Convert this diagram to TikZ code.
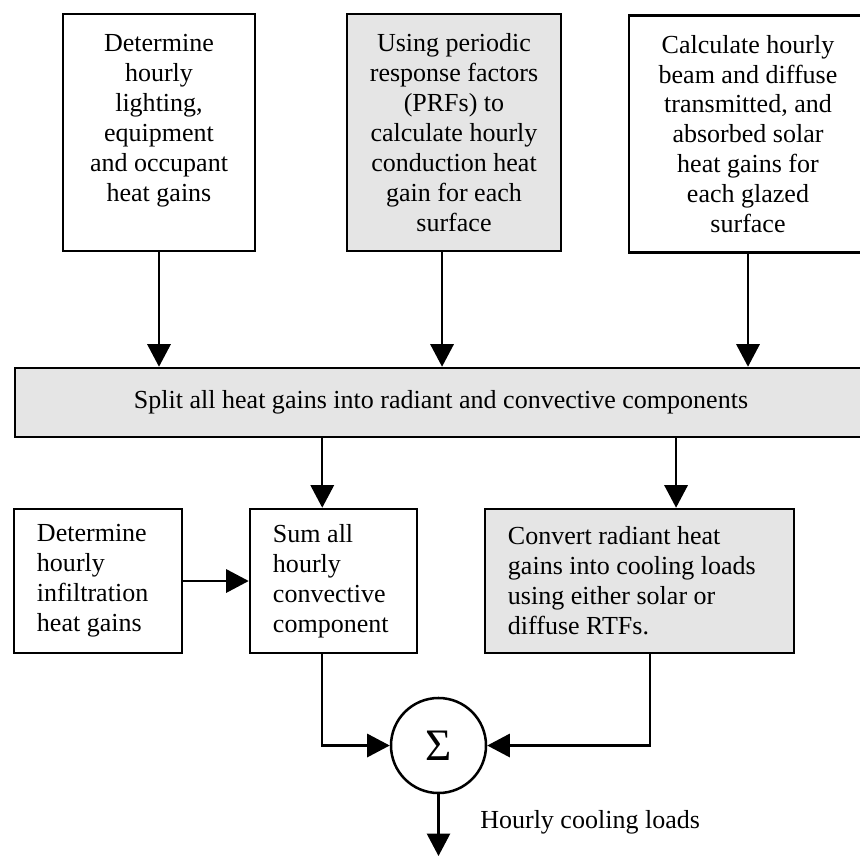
\documentclass[tikz,border=0pt]{standalone}
\usepackage{fontspec}
\setmainfont{Liberation Serif}
\usetikzlibrary{arrows.meta}
\definecolor{boxgray}{gray}{0.9}
\begin{document}
\begin{tikzpicture}[
    x=0.025cm, y=-0.025cm,
    every node/.style={font=\fontsize{18.5}{21.3}\selectfont},
    box/.style={draw, line width=1.8pt, align=center, inner sep=0pt},
    graybox/.style={box, fill=boxgray},
    leftbox/.style={draw, line width=1.8pt, align=flush left, inner xsep=0.575cm,
                    minimum height=3.6cm},
    arr/.style={line width=1.6pt, -{Triangle[width=16.5pt,length=16pt]}}]

\useasboundingbox (0,0) rectangle (860,856);
\clip (0,0) rectangle (860,856);

% top row
\node[box, minimum width=4.8cm, minimum height=5.925cm] (A) at (159,132.5)
    {Determine\\hourly\\lighting,\\equipment\\and occupant\\heat gains\\~};
\node[graybox, minimum width=5.35cm, minimum height=5.925cm] (B) at (454,132.5)
    {Using periodic\\response factors\\(PRFs) to\\calculate hourly\\conduction heat\\gain for each\\surface};
\node[box, minimum width=5.95cm, minimum height=5.925cm] (C) at (748,134)
    {Calculate hourly\\beam and diffuse\\transmitted, and\\absorbed solar\\heat gains for\\each glazed\\surface};

\node[graybox, minimum width=21.3cm, minimum height=1.725cm] (S) at (441,402.5)
    {Split all heat gains into radiant and convective components};

% bottom row
\node[leftbox, text width=3.05cm] (inf) at (98,581)
    {Determine\\hourly\\infiltration\\heat gains};
\node[leftbox, text width=3.025cm] (sum) at (333.5,581)
    {Sum all\\hourly\\convective\\component};
\node[leftbox, text width=6.575cm, fill=boxgray] (conv) at (639.5,581)
    {Convert radiant heat\\gains into cooling loads\\using either solar or\\diffuse RTFs.};

\node[draw, circle, line width=1.8pt, minimum size=2.375cm, inner sep=0pt] (sig) at (438.5,745.5)
    {\fontsize{32}{36}\selectfont Σ};
\coordinate (out) at (438.5,856);
\node[anchor=base west, inner sep=0pt] (loads) at (480,828) {Hourly cooling loads};

% connectors
\draw[arr] (A.south) -- (A.south |- S.north);
\draw[arr] ([xshift=-8.5pt]B.south) -- ([xshift=-8.5pt]B.south |- S.north);
\draw[arr] (C.south) -- (C.south |- S.north);
\draw[arr] ([xshift=-8pt]sum.north |- S.south) -- ([xshift=-8pt]sum.north);
\draw[arr] ([xshift=26pt]conv.north |- S.south) -- ([xshift=26pt]conv.north);
\draw[arr] (inf.east) -- (sum.west);
\draw[arr] ([xshift=-8pt]sum.south) |- (sig.west);
\draw[arr] ([xshift=7.5pt]conv.south) |- (sig.east);
\draw[arr] (sig.south) -- (out);

\end{tikzpicture}
\end{document}
